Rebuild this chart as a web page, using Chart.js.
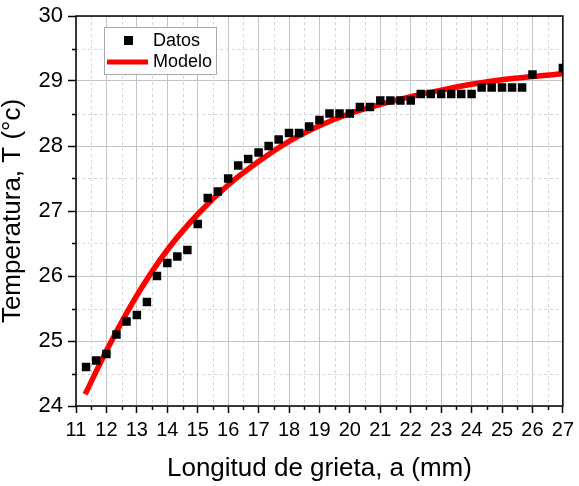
<!DOCTYPE html>
<html>
<head>
<meta charset="utf-8">
<script src="https://cdn.jsdelivr.net/npm/chart.js@4/dist/chart.umd.min.js"></script>
<style>
  body { margin: 0; background: #fff; }
  #wrap { width: 579px; height: 486px; }
</style>
</head>
<body>
<div id="wrap"><canvas id="myChart" width="579" height="486"></canvas></div>
<script>
// datos medidos (longitud de grieta en mm, temperatura en °C)
const grietaX = [11.33, 11.66, 12.0, 12.33, 12.66, 13.0, 13.33, 13.66, 14.0, 14.33,
  14.66, 15.0, 15.33, 15.66, 16.0, 16.33, 16.66, 17.0, 17.33, 17.66,
  18.0, 18.33, 18.66, 19.0, 19.33, 19.66, 20.0, 20.33, 20.66, 21.0,
  21.33, 21.66, 22.0, 22.33, 22.66, 23.0, 23.33, 23.66, 24.0, 24.33,
  24.66, 25.0, 25.33, 25.66, 26.0, 27.0];
const tempDatos = [24.6, 24.7, 24.8, 25.1, 25.3, 25.4, 25.6, 26.0, 26.2, 26.3,
  26.4, 26.8, 27.2, 27.3, 27.5, 27.7, 27.8, 27.9, 28.0, 28.1,
  28.2, 28.2, 28.3, 28.4, 28.5, 28.5, 28.5, 28.6, 28.6, 28.7,
  28.7, 28.7, 28.7, 28.8, 28.8, 28.8, 28.8, 28.8, 28.8, 28.9,
  28.9, 28.9, 28.9, 28.9, 29.1, 29.2];

// curva del modelo
const modeloX = [11.3, 12, 13, 14, 15, 16, 17, 18, 19, 20, 21, 22, 23, 24, 25, 26, 27];
const modeloY = [24.18, 24.85, 25.7, 26.4, 26.95, 27.4, 27.76, 28.07, 28.31, 28.5,
  28.64, 28.76, 28.86, 28.95, 29.02, 29.07, 29.11];

// ejes
const xTicks = [11, 12, 13, 14, 15, 16, 17, 18, 19, 20, 21, 22, 23, 24, 25, 26, 27];
const yTicks = [24, 25, 26, 27, 28, 29, 30];

const fontFam = "'Liberation Sans', Arial, sans-serif";

// rejilla menor punteada + ticks menores + marco
const frameMinor = {
  id: "frameMinor",
  beforeDatasetsDraw(chart) {
    const { ctx, chartArea: a, scales } = chart;
    ctx.save();
    ctx.strokeStyle = "#d6d6d6";
    ctx.lineWidth = 1;
    ctx.setLineDash([3, 3]);
    for (let i = 0; i < xTicks.length - 1; i++) {
      const px = Math.round(scales.x.getPixelForValue(xTicks[i] + 0.5)) + 0.5;
      ctx.beginPath(); ctx.moveTo(px, a.top); ctx.lineTo(px, a.bottom); ctx.stroke();
    }
    for (let i = 0; i < yTicks.length - 1; i++) {
      const py = Math.round(scales.y.getPixelForValue(yTicks[i] + 0.5)) + 0.5;
      ctx.beginPath(); ctx.moveTo(a.left, py); ctx.lineTo(a.right, py); ctx.stroke();
    }
    ctx.setLineDash([]);
    ctx.strokeStyle = "#000";
    ctx.lineWidth = 1.5;
    for (let i = 0; i < xTicks.length - 1; i++) {
      const px = Math.round(scales.x.getPixelForValue(xTicks[i] + 0.5)) + 0.5;
      ctx.beginPath(); ctx.moveTo(px, a.bottom); ctx.lineTo(px, a.bottom + 4); ctx.stroke();
    }
    for (let i = 0; i < yTicks.length - 1; i++) {
      const py = Math.round(scales.y.getPixelForValue(yTicks[i] + 0.5)) + 0.5;
      ctx.beginPath(); ctx.moveTo(a.left - 4, py); ctx.lineTo(a.left, py); ctx.stroke();
    }
    ctx.restore();
  },
  afterDraw(chart) {
    const { ctx, chartArea: a } = chart;
    ctx.save();
    ctx.strokeStyle = "#000";
    ctx.lineWidth = 1.5;
    ctx.strokeRect(a.left, a.top, a.right - a.left, a.bottom - a.top);

    // leyenda dentro del area
    const ds = chart.data.datasets;
    ctx.fillStyle = "#fff";
    ctx.fillRect(104, 27, 113, 48);
    ctx.strokeStyle = "#a8a8a8";
    ctx.lineWidth = 1;
    ctx.strokeRect(104.5, 27.5, 112, 47);
    ctx.fillStyle = ds[0].backgroundColor;
    ctx.fillRect(124, 36, 9, 9);
    ctx.strokeStyle = ds[1].borderColor;
    ctx.lineWidth = 5;
    ctx.beginPath(); ctx.moveTo(107, 62); ctx.lineTo(148, 62); ctx.stroke();
    ctx.fillStyle = "#000";
    ctx.font = "18px " + fontFam;
    ctx.textBaseline = "middle";
    ctx.fillText(ds[0].label, 153, 41);
    ctx.fillText(ds[1].label, 153, 62);
    ctx.restore();
  }
};

const ctx = document.getElementById("myChart");
new Chart(ctx, {
  type: "scatter",
  data: {
    datasets: [
      {
        label: "Datos",
        data: grietaX.map((x, i) => ({ x: x, y: tempDatos[i] })),
        backgroundColor: "#000",
        borderColor: "#000",
        pointStyle: "rect",
        pointRadius: 6,
        borderWidth: 0,
        showLine: false
      },
      {
        label: "Modelo",
        data: modeloX.map((x, i) => ({ x: x, y: modeloY[i] })),
        borderColor: "#ff0000",
        backgroundColor: "#ff0000",
        borderWidth: 5.5,
        pointRadius: 0,
        showLine: true,
        cubicInterpolationMode: "monotone",
        borderCapStyle: "butt"
      }
    ]
  },
  options: {
    responsive: false,
    animation: false,
    layout: { padding: { top: 13, right: 16, left: 0, bottom: 0 } },
    plugins: {
      legend: { display: false },
      tooltip: { enabled: false }
    },
    scales: {
      x: {
        type: "linear",
        min: 11,
        max: 27,
        afterBuildTicks: (s) => { s.ticks = xTicks.map(v => ({ value: v })); },
        afterFit: (s) => { s.height = 80; },
        ticks: {
          color: "#000",
          padding: 5,
          maxRotation: 0,
          autoSkip: false,
          font: { family: fontFam, size: 20 }
        },
        grid: { color: "#c4c4c4", tickColor: "#000", tickLength: 7, lineWidth: 1, tickWidth: 1.5 },
        border: { display: false },
        title: {
          display: true,
          text: "Longitud de grieta, a (mm)",
          color: "#000",
          padding: { top: 0, bottom: 4 },
          font: { family: fontFam, size: 26, lineHeight: 1.0 }
        }
      },
      y: {
        type: "linear",
        min: 24,
        max: 30,
        afterBuildTicks: (s) => { s.ticks = yTicks.map(v => ({ value: v })); },
        afterFit: (s) => { s.width = 76; },
        ticks: {
          color: "#000",
          padding: 5,
          font: { family: fontFam, size: 22, lineHeight: 1.0 }
        },
        grid: { color: "#c4c4c4", tickColor: "#000", tickLength: 8, lineWidth: 1, tickWidth: 1.5 },
        border: { display: false },
        title: {
          display: true,
          text: "Temperatura, T (°c)",
          color: "#000",
          padding: { top: 0, bottom: 0 },
          font: { family: fontFam, size: 26, lineHeight: 1.0 }
        }
      }
    }
  },
  plugins: [frameMinor]
});
</script>
</body>
</html>
